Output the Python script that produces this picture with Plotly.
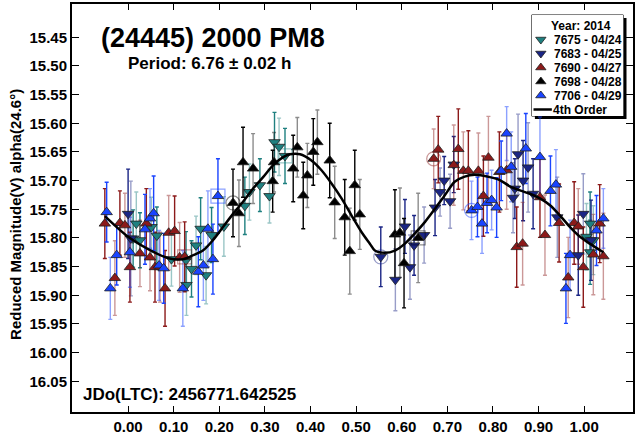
import plotly.graph_objects as go

# ---------------- data ----------------
phase_7675 = [0.011, 0.018, 0.026, 0.051, 0.063, 0.095, 0.127, 0.128, 0.139, 0.149, 0.159, 0.171, 0.183,
              0.210, 0.256, 0.266, 0.289, 0.310, 0.321, 0.331, 0.344, 1.005, 1.013, 1.020, 1.013]
mag_7675 = [15.801, 15.775, 15.804, 15.781, 15.796, 15.837, 15.839, 15.882, 15.854, 15.813, 15.784, 15.865, 15.795,
            15.780, 15.744, 15.720, 15.708, 15.727, 15.633, 15.641, 15.657, 15.798, 15.775, 15.804, 15.825]
err_7675 = [0.050, 0.055, 0.048, 0.052, 0.050, 0.047, 0.050, 0.053, 0.049, 0.051, 0.054, 0.050, 0.048,
            0.052, 0.050, 0.049, 0.046, 0.047, 0.052, 0.050, 0.048, 0.058, 0.055, 0.060, 0.056]

phase_7683 = [0.000, 0.006, 0.554, 0.586, 0.607, 0.618, 0.627, 0.649, 0.673, 0.684, 0.693, 0.706, 0.714,
              0.844, 0.848, 0.855, 0.866, 0.877, 0.888, 0.941, 0.987, 0.998, 1.015]
mag_7683 = [15.758, 15.801, 15.833, 15.873, 15.780, 15.851, 15.813, 15.795, 15.747, 15.720, 15.700, 15.736, 15.672,
            15.730, 15.714, 15.654, 15.700, 15.677, 15.723, 15.764, 15.830, 15.758, 15.804]
err_7683 = [0.078, 0.100, 0.052, 0.054, 0.047, 0.056, 0.052, 0.049, 0.049, 0.042, 0.042, 0.047, 0.049,
            0.061, 0.052, 0.070, 0.070, 0.078, 0.061, 0.070, 0.070, 0.070, 0.070]

phase_7690 = [-0.051, -0.029, -0.018, -0.007, 0.004, 0.026, 0.040, 0.048, 0.059, 0.070, 0.081, 0.089, 0.102,
              0.113, 0.124, 0.670, 0.680, 0.714, 0.724, 0.735, 0.746, 0.768, 0.779, 0.790, 0.814, 0.830,
              0.852, 0.865, 0.903, 0.914, 0.945, 0.965, 0.978, 0.987, 0.998, 1.020, 1.034, 1.042]
mag_7690 = [15.775, 15.870, 15.774, 15.778, 15.851, 15.827, 15.775, 15.834, 15.851, 15.851, 15.888, 15.791, 15.788,
            15.834, 15.833, 15.662, 15.646, 15.673, 15.645, 15.683, 15.683, 15.683, 15.727, 15.660, 15.685, 15.682,
            15.816, 15.810, 15.729, 15.795, 15.774, 15.869, 15.774, 15.780, 15.851, 15.829, 15.775, 15.832]
err_7690 = [0.061, 0.065, 0.056, 0.056, 0.061, 0.058, 0.061, 0.058, 0.061, 0.061, 0.066, 0.065, 0.061,
            0.061, 0.061, 0.052, 0.058, 0.070, 0.070, 0.068, 0.070, 0.066, 0.070, 0.072, 0.070, 0.068,
            0.070, 0.072, 0.070, 0.070, 0.068, 0.070, 0.072, 0.066, 0.070, 0.070, 0.068, 0.075]

phase_7698 = [0.230, 0.243, 0.252, 0.274, 0.317, 0.320, 0.362, 0.371, 0.384, 0.393, 0.406, 0.415, 0.442,
              0.453, 0.475, 0.486, 0.497, 0.508, 0.585, 0.596, 0.605, 0.636]
mag_7698 = [15.739, 15.757, 15.668, 15.679, 15.701, 15.668, 15.679, 15.642, 15.726, 15.691, 15.650, 15.633, 15.665,
            15.738, 15.764, 15.823, 15.708, 15.759, 15.794, 15.791, 15.844, 15.800]
err_7698 = [0.059, 0.058, 0.061, 0.061, 0.054, 0.052, 0.058, 0.052, 0.058, 0.056, 0.058, 0.056, 0.065,
            0.063, 0.066, 0.075, 0.061, 0.061, 0.078, 0.078, 0.078, 0.078]

phase_7706 = [-0.047, -0.039, -0.025, 0.004, 0.037, 0.048, 0.056, 0.068, 0.078, 0.120, 0.154, 0.165, 0.186,
              0.175, 0.197, 0.753, 0.766, 0.776, 0.787, 0.797, 0.808, 0.830, 0.818, 0.840, 0.872, 0.903,
              0.926, 0.938, 0.960, 0.969, 1.027, 1.042]
mag_7706 = [15.755, 15.888, 15.830, 15.825, 15.785, 15.766, 15.757, 15.848, 15.853, 15.888, 15.859, 15.848, 15.837,
            15.784, 15.727, 15.752, 15.746, 15.775, 15.739, 15.734, 15.747, 15.618, 15.683, 15.676, 15.644, 15.659,
            15.718, 15.707, 15.888, 15.830, 15.787, 15.766]
err_7706 = [0.052, 0.054, 0.052, 0.061, 0.061, 0.052, 0.065, 0.061, 0.061, 0.066, 0.061, 0.061, 0.061,
            0.066, 0.065, 0.051, 0.052, 0.052, 0.052, 0.052, 0.052, 0.047, 0.052, 0.061, 0.061, 0.070,
            0.061, 0.061, 0.061, 0.061, 0.061, 0.052]

# 4th order fit curve
fit_phase = [-0.051, 0.000, 0.050, 0.091, 0.121, 0.143, 0.164, 0.186, 0.208, 0.230, 0.252, 0.274, 0.296, 0.318,
             0.340, 0.355, 0.377, 0.402, 0.424, 0.446, 0.468, 0.490, 0.512, 0.530, 0.541, 0.563, 0.585, 0.607,
             0.629, 0.651, 0.673, 0.694, 0.716, 0.738, 0.760, 0.793, 0.815, 0.837, 0.859, 0.881, 0.903, 0.925,
             0.947, 0.969, 0.991, 1.012, 1.042]
fit_mag = [15.762, 15.798, 15.822, 15.836, 15.837, 15.830, 15.822, 15.804, 15.781, 15.758, 15.737, 15.714, 15.694,
           15.673, 15.659, 15.654, 15.654, 15.665, 15.682, 15.705, 15.731, 15.761, 15.790, 15.810, 15.822, 15.826,
           15.822, 15.810, 15.792, 15.772, 15.749, 15.726, 15.702, 15.693, 15.690, 15.694, 15.699, 15.710, 15.717,
           15.723, 15.731, 15.743, 15.761, 15.781, 15.798, 15.810, 15.825]

x_ticks = [0.0, 0.1, 0.2, 0.3, 0.4, 0.5, 0.6, 0.7, 0.8, 0.9, 1.0]
y_ticks = [15.45, 15.50, 15.55, 15.60, 15.65, 15.70, 15.75, 15.80, 15.85, 15.90, 15.95, 16.00, 16.05]

series_names = ["7675 - 04/24", "7683 - 04/25", "7690 - 04/27", "7698 - 04/28", "7706 - 04/29"]
circled = {"7683 - 04/25": [2], "7690 - 04/27": [15], "7698 - 04/28": [0], "7706 - 04/29": [15]}
boxed = {"7675 - 04/24": [20], "7690 - 04/27": [14], "7698 - 04/28": [21], "7706 - 04/29": [14]}

# ---------------- styling ----------------
FONT = "Liberation Sans, Arial, sans-serif"
series = [
    (series_names[0], phase_7675, mag_7675, err_7675, "#1f8080", "rgba(31,128,128,0.45)", "triangle-down"),
    (series_names[1], phase_7683, mag_7683, err_7683, "#1a2585", "rgba(26,37,133,0.45)", "triangle-down"),
    (series_names[2], phase_7690, mag_7690, err_7690, "#8c1a1a", "rgba(140,26,26,0.45)", "triangle-up"),
    (series_names[3], phase_7698, mag_7698, err_7698, "#000000", "rgba(0,0,0,0.45)", "triangle-up"),
    (series_names[4], phase_7706, mag_7706, err_7706, "#1a44ff", "rgba(26,68,255,0.5)", "triangle-up"),
]

fig = go.Figure()

# error bars (dark and light alternating, as in the reference)
for name, ph, mg, er, col, lcol, sym in series:
    for parity, ecol in ((0, col), (1, lcol)):
        idx = [i for i in range(len(ph)) if i % 2 == parity]
        fig.add_trace(go.Scatter(
            x=[ph[i] for i in idx], y=[mg[i] for i in idx], mode="markers",
            marker=dict(size=2, opacity=0),
            error_y=dict(type="data", array=[er[i] for i in idx], color=ecol, thickness=1.4, width=2),
            showlegend=False, hoverinfo="skip"))

# markers
for name, ph, mg, er, col, lcol, sym in series:
    fig.add_trace(go.Scatter(
        x=ph, y=mg, mode="markers", name=name,
        marker=dict(symbol=sym, size=10, color=col, line=dict(color="#202020", width=0.8)),
        showlegend=False))

# highlighted points (open circles / squares)
for name, ph, mg, er, col, lcol, sym in series:
    for marks, msym in ((circled, "circle-open"), (boxed, "square-open")):
        ids = marks.get(name, [])
        if ids:
            fig.add_trace(go.Scatter(
                x=[ph[i] for i in ids], y=[mg[i] for i in ids], mode="markers",
                marker=dict(symbol=msym, size=14, color=lcol, line=dict(width=1.2)),
                showlegend=False, hoverinfo="skip"))

# fit curve
fig.add_trace(go.Scatter(x=fit_phase, y=fit_mag, mode="lines",
                         line=dict(color="black", width=2.5, shape="spline", smoothing=0.8),
                         showlegend=False))

# ---------------- custom legend (compact, like the reference) ----------------
for k, (name, ph, mg, er, col, lcol, sym) in enumerate(series):
    fig.add_trace(go.Scatter(x=[0.10], y=[k + 1], mode="markers", xaxis="x2", yaxis="y2",
                             marker=dict(symbol=sym, size=9, color=col, line=dict(color="#202020", width=0.8)),
                             showlegend=False, hoverinfo="skip"))
fig.add_trace(go.Scatter(x=[0.02, 0.22], y=[6, 6], mode="lines", xaxis="x2", yaxis="y2",
                         line=dict(color="black", width=2.5), showlegend=False, hoverinfo="skip"))

annotations = []
annotations.append(dict(x=0.54, y=0, xref="x2", yref="y2", text="Year: 2014", showarrow=False,
                        xanchor="center", yanchor="middle",
                        font=dict(family=FONT, size=12, color="black", weight="bold")))
for k, name in enumerate(series_names):
    annotations.append(dict(x=0.225, y=k + 1, xref="x2", yref="y2", text=name, showarrow=False,
                            xanchor="left", yanchor="middle",
                            font=dict(family=FONT, size=12, color="black", weight="bold")))
annotations.append(dict(x=0.215, y=6, xref="x2", yref="y2", text="4th Order", showarrow=False,
                        xanchor="left", yanchor="middle",
                        font=dict(family=FONT, size=12, color="black", weight="bold")))

# titles and notes (paper coords relative to plot area 72..633 x 4..412 px)
annotations += [
    dict(x=0.048, y=0.916, xref="paper", yref="paper", text="(24445) 2000 PM8", showarrow=False,
         xanchor="left", yanchor="middle", font=dict(family=FONT, size=27, color="black", weight="bold")),
    dict(x=0.096, y=0.853, xref="paper", yref="paper", text="Period: 6.76 ± 0.02 h", showarrow=False,
         xanchor="left", yanchor="middle", font=dict(family=FONT, size=17, color="black", weight="bold")),
    dict(x=0.016, y=0.042, xref="paper", yref="paper", text="JDo(LTC): 2456771.642525", showarrow=False,
         xanchor="left", yanchor="middle", font=dict(family=FONT, size=17, color="black", weight="bold")),
    dict(x=-0.102, y=0.485, xref="paper", yref="paper", text="Reduced Magnitude(V) alpha(24.6°)",
         showarrow=False, textangle=-90, xanchor="center", yanchor="middle",
         font=dict(family=FONT, size=15, color="black", weight="bold")),
]

shapes = [
    dict(type="rect", xref="x2 domain", yref="y2 domain", x0=0.035, x1=1.035, y0=-0.03, y1=0.97,
         fillcolor="black", line=dict(width=0), layer="below"),
    dict(type="rect", xref="x2 domain", yref="y2 domain", x0=0, x1=1, y0=0, y1=1,
         fillcolor="white", line=dict(color="black", width=1), layer="below"),
]

tickfont = dict(family=FONT, size=15, color="black", weight="bold")
fig.update_layout(
    width=636, height=436,
    margin=dict(l=72, r=3, t=4, b=24, autoexpand=False),
    paper_bgcolor="white", plot_bgcolor="white",
    showlegend=False,
    xaxis=dict(range=[-0.123, 1.107], tickvals=x_ticks, tickformat=".2f", ticks="inside", ticklen=6,
               tickwidth=1.2, tickcolor="black", showline=True, linewidth=2, linecolor="black",
               mirror="ticks", showgrid=False, zeroline=False, tickfont=tickfont, automargin=False),
    yaxis=dict(range=[16.1036, 15.392], tickvals=y_ticks, tickformat=".2f", ticks="inside", ticklen=7,
               tickwidth=1.2, tickcolor="black", showline=True, linewidth=2, linecolor="black",
               mirror="ticks", showgrid=False, zeroline=False, tickfont=tickfont, automargin=False),
    xaxis2=dict(domain=[0.8194, 0.9827], range=[0, 1], visible=False, anchor="y2", fixedrange=True,
                automargin=False),
    yaxis2=dict(domain=[0.7255, 0.9730], range=[6.464, -0.75], visible=False, anchor="x2", fixedrange=True,
                automargin=False),
    annotations=annotations,
    shapes=shapes,
)

fig.write_html("out.html", config={"displayModeBar": False},
               post_script="document.body.style.margin='0';document.body.style.overflow='hidden';")
